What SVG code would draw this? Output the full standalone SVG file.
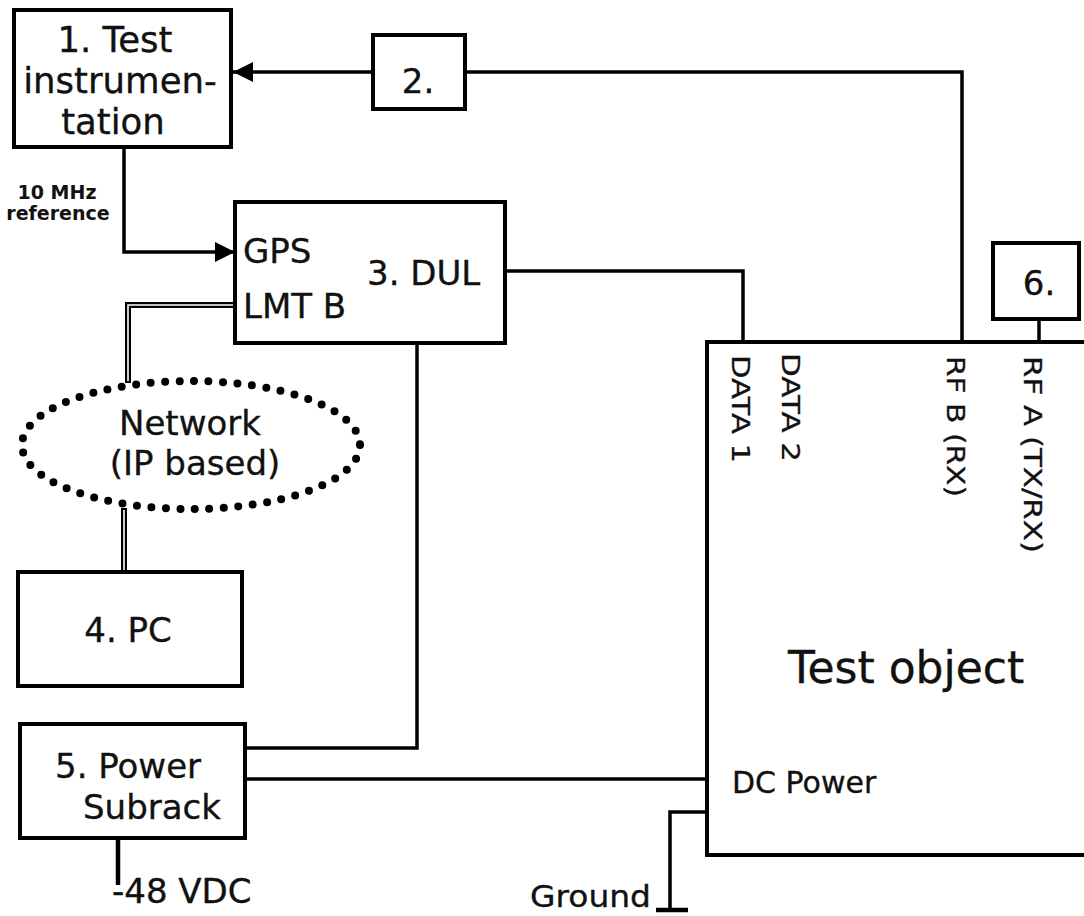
<svg xmlns="http://www.w3.org/2000/svg" width="1084" height="916" viewBox="0 0 1084 916">
<style>
.box{fill:#fff;stroke:#000;stroke-width:4}
.ln{fill:none;stroke:#000;stroke-width:3.5}
.dbl{fill:none;stroke:#000;stroke-width:6}
.dblin{fill:none;stroke:#fff;stroke-width:1.6}
.t{font-family:"DejaVu Sans",Verdana,sans-serif;font-size:34px;fill:#111;stroke:#111;stroke-width:0.35}
.m{text-anchor:middle}
.s{font-family:"DejaVu Sans",Verdana,sans-serif;font-size:19px;font-weight:bold;fill:#111;text-anchor:middle}
.r{font-family:"DejaVu Sans",Verdana,sans-serif;font-size:25px;fill:#111;stroke:#111;stroke-width:0.3}
</style>
<defs>
<marker id="arr" markerWidth="20" markerHeight="20" refX="20" refY="10" orient="auto" markerUnits="userSpaceOnUse">
<path d="M0,0 L20,10 L0,20 Z" fill="#000"/>
</marker>
</defs>
<rect width="1084" height="916" fill="#fff"/>
<g id="connectors">
<path class="ln" d="M373,72 L233,72" marker-end="url(#arr)"/>
<path class="ln" d="M465,72 L962,72 L962,342"/>
<path class="ln" d="M124,147 L124,252 L235,252" marker-end="url(#arr)"/>
<path class="dbl" d="M235,305 L128,305 L128,383"/>
<path class="dblin" d="M233,305 L128,305 L128,381"/>
<path class="dbl" d="M124,508 L124,572"/>
<path class="dblin" d="M124,510 L124,570"/>
<path class="ln" d="M505,271 L743,271 L743,342"/>
<path class="ln" d="M1039,319 L1039,342"/>
<path class="ln" d="M417,343 L417,748 L245,748"/>
<path class="ln" d="M245,779 L707,779"/>
<path class="ln" d="M707,812 L670,812 L670,910"/>
<path class="ln" d="M656,910 L688,910" style="stroke-width:4.5"/>
<path class="ln" d="M118,838 L118,885" style="stroke-width:4.5"/>
<text class="s" x="57" y="199">10 MHz</text>
<text class="s" x="58" y="220">reference</text>
</g>
<g id="node1">
<rect class="box" x="14" y="10" width="217" height="137"/>
<text class="t m" x="115" y="52" style="font-size:35.5px">1. Test</text>
<text class="t m" x="120" y="93" style="font-size:35.5px">instrumen-</text>
<text class="t m" x="113" y="134" style="font-size:35.5px">tation</text>
</g>
<g id="node2">
<rect class="box" x="373" y="35" width="92" height="74"/>
<text class="t m" x="418" y="93">2.</text>
</g>
<g id="node3">
<rect class="box" x="235" y="202" width="270" height="141"/>
<text class="t" x="243" y="263">GPS</text>
<text class="t" x="243" y="318">LMT B</text>
<text class="t" x="367" y="285">3. DUL</text>
</g>
<g id="network">
<ellipse cx="191" cy="445" rx="169" ry="64" fill="none" stroke="#000" stroke-width="8" stroke-linecap="round" stroke-dasharray="0 14.5"/>
<text class="t m" x="190" y="435">Network</text>
<text class="t m" x="195" y="475">(IP based)</text>
</g>
<g id="node4">
<rect class="box" x="18" y="572" width="224" height="114"/>
<text class="t m" x="128" y="642">4. PC</text>
</g>
<g id="node5">
<rect class="box" x="20" y="724" width="225" height="114"/>
<text class="t" x="55" y="778">5. Power</text>
<text class="t" x="83" y="819">Subrack</text>
</g>
<g id="vdc">
<text class="t" x="112" y="903">-48 VDC</text>
</g>
<g id="node6">
<rect class="box" x="993" y="243" width="86" height="76"/>
<text class="t m" x="1039" y="295">6.</text>
</g>
<g id="testobject">
<rect class="box" x="707" y="342" width="400" height="513"/>
<text class="r" transform="translate(732,355) rotate(90)" textLength="108" lengthAdjust="spacingAndGlyphs">DATA 1</text>
<text class="r" transform="translate(782,353) rotate(90)" textLength="109" lengthAdjust="spacingAndGlyphs">DATA 2</text>
<text class="r" transform="translate(947,356) rotate(90)" textLength="141" lengthAdjust="spacingAndGlyphs">RF B (RX)</text>
<text class="r" transform="translate(1024,356) rotate(90)" textLength="197" lengthAdjust="spacingAndGlyphs">RF A (TX/RX)</text>
<text class="t" x="788" y="683" style="font-size:44px">Test object</text>
<text class="t" x="732" y="793" style="font-size:30px">DC Power</text>
</g>
<g id="ground">
<text class="t" x="530" y="907" style="font-size:31px" textLength="121" lengthAdjust="spacingAndGlyphs">Ground</text>
</g>
</svg>
